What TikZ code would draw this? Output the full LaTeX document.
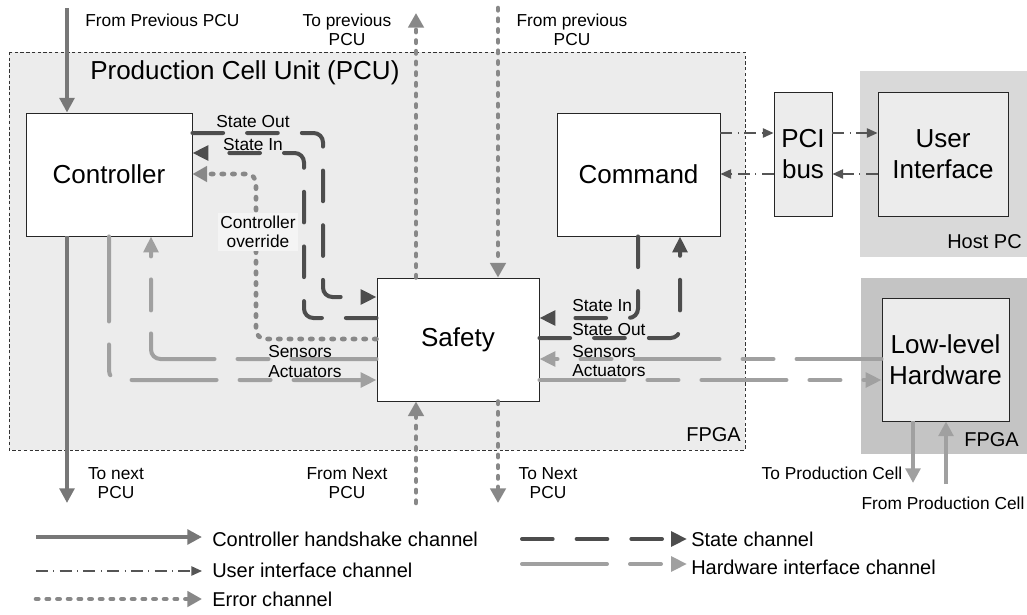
\documentclass[tikz,border=0pt]{standalone}
\usepackage{fontspec}
\setmainfont{Liberation Sans}
\usetikzlibrary{arrows.meta}
\definecolor{pcufill}{HTML}{ECECEC}
\definecolor{hostfill}{HTML}{D9D9D9}
\definecolor{fpgafill}{HTML}{C4C4C4}
\definecolor{hsc}{HTML}{777777}
\definecolor{stc}{HTML}{4D4D4D}
\definecolor{erc}{HTML}{888888}
\definecolor{hwc}{HTML}{A0A0A0}
\definecolor{uic}{HTML}{555555}
\definecolor{ovfill}{HTML}{F4F4F4}
\begin{document}
\begin{tikzpicture}[x=0.75pt,y=-0.75pt,
  box/.style={draw=black!85,line width=0.7pt,fill=white,inner sep=0pt,align=center,font=\fontsize{19.5}{23.5}\selectfont},
  lab/.style={font=\fontsize{13}{14.5}\selectfont,inner sep=0pt,align=center},
  mid/.style={font=\fontsize{15}{17}\selectfont,inner sep=0pt},
  leg/.style={font=\fontsize{15}{17}\selectfont,inner sep=0pt,anchor=west},
  hs/.style={draw=hsc,line width=3.2pt,-{Triangle[length=11pt,width=11pt]}},
  hwsolid/.style={draw=hwc,line width=3pt,-{Triangle[length=11pt,width=11pt]}},
  st/.style={draw=stc,line width=3pt,line cap=round,dash pattern=on 23pt off 18pt,rounded corners=7pt,-{Triangle[length=12pt,width=11pt]}},
  hw/.style={draw=hwc,line width=3pt,line cap=round,dash pattern=on 63.75pt off 17.25pt on 23.25pt off 17.25pt,rounded corners=7pt,-{Triangle[length=12pt,width=11pt]}},
  er/.style={draw=erc,line width=3.4pt,line cap=round,dash pattern=on 1.8pt off 6.2pt,rounded corners=7pt,-{Triangle[length=11pt,width=11.5pt]}},
  uich/.style={draw=uic,line width=1.1pt,dash pattern=on 9pt off 4pt on 0.8pt off 4pt,-{Triangle[length=8pt,width=7pt]}}
]
\useasboundingbox (0,0) rectangle (1027,614);
% areas
\fill[pcufill] (9,52) rectangle (745,450);
\draw[black!80,line width=0.5pt,dash pattern=on 2.5pt off 1.8pt] (9,52) rectangle (745,450);
\fill[hostfill] (860,71) rectangle (1027,257);
\fill[fpgafill] (861,278) rectangle (1027,454);

% boxes
\node[box,minimum width=124.5pt,minimum height=92.25pt] (ctrl) at (109,174.5) {Controller};
\node[box,minimum width=121.5pt,minimum height=92.25pt] (safety) at (458,339.5) {Safety};
\node[box,minimum width=122.25pt,minimum height=92.25pt] (cmd) at (638.5,174.5) {Command};
\node[box,fill=pcufill,minimum width=43.5pt,minimum height=93pt] (pci) at (803,154) {PCI\\bus};
\node[box,fill=pcufill,minimum width=97.5pt,minimum height=93pt] (ui) at (943,154) {User\\Interface};
\node[box,fill=pcufill,minimum width=95.25pt,minimum height=92.25pt] (llh) at (945.5,359.5) {Low-level\\Hardware};

% free ends
\coordinate (inPrev) at (67,8);
\coordinate (outNext) at (67,503);
\coordinate (toPrev) at (416,13);
\coordinate (fromPrev) at (498,8);
\coordinate (fromNext) at (416,503);
\coordinate (toNext) at (498,503);
\coordinate (toPC) at (913,483);
\coordinate (fromPC) at (946,484);

% handshake
\draw[hs] (inPrev) -- (inPrev |- ctrl.north);
\draw[hs] (outNext |- ctrl.south) -- (outNext);
% error vertical
\draw[er] (toPrev |- safety.north) -- (toPrev);
\draw[er] (fromPrev) -- (fromPrev |- safety.north);
\draw[er] (fromNext) -- (fromNext |- safety.south);
\draw[er] (toNext |- safety.south) -- (toNext);

% state left
\draw[st] (ctrl.east |- 0,133) -| (323,297) -- (safety.west |- 0,297);
\draw[st] (safety.west |- 0,318) -| (304,153) -- (ctrl.east |- 0,153);
% override
\draw[er] (safety.west |- 0,339) -| (256,174) -- (ctrl.east |- 0,174);
% hardware left
\draw[hw] (safety.west |- 0,359) -| (151,0 |- ctrl.south);
\draw[hw] (109,0 |- ctrl.south) |- (safety.west |- 0,380);

% state right
\draw[st] (638,0 |- cmd.south) |- (safety.east |- 0,318);
\draw[st] (safety.east |- 0,338) -| (680,0 |- cmd.south);
% hardware right
\draw[hw] (llh.west |- 0,359) -- (safety.east |- 0,359);
\draw[hw] (safety.east |- 0,380) -- (llh.west |- 0,380);

% user interface
\draw[uich] (cmd.east |- 0,133) -- (pci.west |- 0,133);
\draw[uich] (pci.east |- 0,133) -- (ui.west |- 0,133);
\draw[uich] (ui.west |- 0,174) -- (pci.east |- 0,174);
\draw[uich] (pci.west |- 0,174) -- (cmd.east |- 0,174);

% production cell
\draw[hwsolid] (toPC |- llh.south) -- (toPC);
\draw[hwsolid] (fromPC) -- (fromPC |- llh.south);

% labels
\node[anchor=west,font=\fontsize{19.5}{23.5}\selectfont,inner sep=0pt] (title) at (90,73) {Production Cell Unit (PCU)};
\node[lab,anchor=west] (lFromPrevPCU) at (85,20) {From Previous PCU};
\node[lab] (lToPrevPCU) at (347,30) {To previous\\PCU};
\node[lab] (lFromPrevPCUb) at (572,30) {From previous\\PCU};
\node[lab] (lToNextPCU) at (116,483) {To next\\PCU};
\node[lab] (lFromNextPCU) at (347,483) {From Next\\PCU};
\node[lab] (lToNextPCUb) at (548,483) {To Next\\PCU};
\node[lab] (lStOutL) at (253,122) {State Out};
\node[lab] (lStInL) at (253,145) {State In};
\node[lab,fill=ovfill,inner sep=2pt] (lOverride) at (258,232) {Controller\\override};
\node[lab,anchor=west] (lSensL) at (268,352) {Sensors};
\node[lab,anchor=west] (lActL) at (268,372) {Actuators};
\node[lab,anchor=west] (lStInR) at (572,306) {State In};
\node[lab,anchor=west] (lStOutR) at (572,330) {State Out};
\node[lab,anchor=west] (lSensR) at (572,352) {Sensors};
\node[lab,anchor=west] (lActR) at (572,371) {Actuators};
\node[lab] (lToPC) at (832,473) {To Production Cell};
\node[lab] (lFromPC) at (943,503) {From Production Cell};
\node[mid,anchor=east] (lfpga1) at (741,435) {FPGA};
\node[mid,anchor=east] (lhost) at (1022,242) {Host PC};
\node[mid,anchor=east] (lfpga2) at (1019,440) {FPGA};

% legend
\coordinate (la1) at (36,537); \coordinate (lb1) at (202,537);
\coordinate (la2) at (36,571); \coordinate (lb2) at (202,571);
\coordinate (la3) at (36,599); \coordinate (lb3) at (202,599);
\coordinate (la4) at (522,539); \coordinate (lb4) at (687,539);
\coordinate (la5) at (522,564); \coordinate (lb5) at (687,564);
\draw[hs] (la1) -- (lb1);
\draw[uich] (la2) -- (lb2);
\draw[er] (la3) -- (lb3);
\draw[st] (la4) -- (lb4);
\draw[hw] (la5) -- (lb5);
\node[leg] (lt1) at (212,539) {Controller handshake channel};
\node[leg] (lt2) at (212,570) {User interface channel};
\node[leg] (lt3) at (212,599) {Error channel};
\node[leg] (lt4) at (691,539) {State channel};
\node[leg] (lt5) at (691,567) {Hardware interface channel};
\end{tikzpicture}
\end{document}
